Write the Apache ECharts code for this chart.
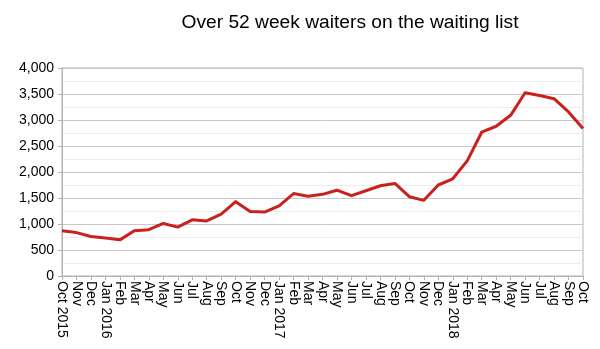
<!DOCTYPE html>
<html>
<head>
<meta charset="utf-8">
<script src="https://cdn.jsdelivr.net/npm/echarts@6/dist/echarts.min.js"></script>
<style>
  html, body { margin: 0; padding: 0; background: #fff; }
  #chart { width: 600px; height: 349px; }
</style>
</head>
<body>
<div id="chart"></div>
<script>
// Monthly counts, Oct 2015 – Oct 2018
const months = [
  'Oct 2015', 'Nov', 'Dec', 'Jan 2016', 'Feb', 'Mar', 'Apr', 'May', 'Jun', 'Jul', 'Aug', 'Sep',
  'Oct', 'Nov', 'Dec', 'Jan 2017', 'Feb', 'Mar', 'Apr', 'May', 'Jun', 'Jul', 'Aug', 'Sep',
  'Oct', 'Nov', 'Dec', 'Jan 2018', 'Feb', 'Mar', 'Apr', 'May', 'Jun', 'Jul', 'Aug', 'Sep', 'Oct'
];
const waiters = [
  870, 835, 760, 730, 695, 870, 890, 1010, 940, 1080, 1060, 1190,
  1430, 1240, 1230, 1350, 1585, 1535, 1570, 1650, 1545, 1640, 1735, 1780,
  1525, 1455, 1750, 1870, 2215, 2765, 2880, 3090, 3525, 3470, 3410, 3155, 2835
];
const titleText = 'Over 52 week waiters on the waiting list';

const chart = echarts.init(document.getElementById('chart'), null, { renderer: 'canvas' });
const font = '"Liberation Sans", Arial, sans-serif';

chart.setOption({
  animation: false,
  backgroundColor: '#ffffff',
  title: {
    text: titleText,
    left: 345,
    textAlign: 'center',
    top: 8,
    textStyle: { fontFamily: font, fontSize: 19.2, fontWeight: 'normal', color: '#000' }
  },
  grid: {
    left: 62, right: 17, top: 68, bottom: 73,
    show: true, borderColor: '#b3b3b3', borderWidth: 1
  },
  xAxis: {
    type: 'category',
    data: months,
    boundaryGap: false,
    axisLine: { lineStyle: { color: '#b3b3b3', width: 1 } },
    axisTick: { show: true, length: 4, alignWithLabel: true, lineStyle: { color: '#b3b3b3' } },
    axisLabel: {
      interval: 0, rotate: -90, margin: 5,
      fontFamily: font, fontSize: 14, color: '#000'
    },
    splitLine: { show: false }
  },
  yAxis: {
    type: 'value',
    min: 0, max: 4000, interval: 500,
    axisLine: { show: true, lineStyle: { color: '#b3b3b3', width: 1 } },
    axisTick: { show: true, length: 4, lineStyle: { color: '#b3b3b3' } },
    axisLabel: {
      fontFamily: font, fontSize: 14, color: '#000', margin: 8,
      formatter: v => v.toLocaleString('en-US')
    },
    splitLine: { show: true, lineStyle: { color: '#c8c8c8', width: 1 } },
    minorTick: { show: false, splitNumber: 2 },
    minorSplitLine: { show: true, lineStyle: { color: '#ececec', width: 1 } }
  },
  series: [{
    type: 'line',
    data: waiters,
    symbol: 'none',
    lineStyle: { color: '#c9211e', width: 3, join: 'round' }
  }]
});
</script>
</body>
</html>
